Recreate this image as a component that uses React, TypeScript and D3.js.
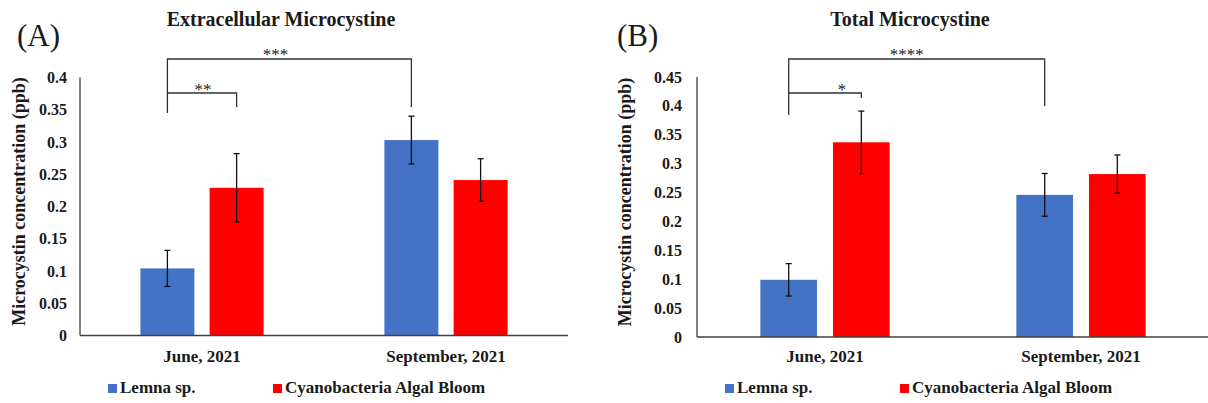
import React from "react";
import * as d3 from "d3";

const categories = ["June, 2021", "September, 2021"];
const seriesNames = ["Lemna sp.", "Cyanobacteria Algal Bloom"];
const seriesColors = ["#4472C4", "#FF0000"];

// Panel A: Extracellular Microcystine
const extraLemna = [0.104, 0.303];
const extraLemnaErr = [0.028, 0.037];
const extraCyano = [0.229, 0.241];
const extraCyanoErr = [0.053, 0.033];
const extraTicks = [0, 0.05, 0.1, 0.15, 0.2, 0.25, 0.3, 0.35, 0.4];

// Panel B: Total Microcystine
const totalLemna = [0.099, 0.246];
const totalLemnaErr = [0.028, 0.037];
const totalCyano = [0.337, 0.282];
const totalCyanoErr = [0.054, 0.033];
const totalTicks = [0, 0.05, 0.1, 0.15, 0.2, 0.25, 0.3, 0.35, 0.4, 0.45];

// Significance brackets: [category, series] of left and right ends
const extraBrackets = [
  { label: "***", a: [0, 0], b: [1, 0], level: 0 },
  { label: "**", a: [0, 0], b: [0, 1], level: 1 },
];
const totalBrackets = [
  { label: "****", a: [0, 0], b: [1, 0], level: 0 },
  { label: "*", a: [0, 0], b: [0, 1], level: 1 },
];

const FONT = "'Liberation Serif', 'Times New Roman', serif";
const TEXT = "#1a1a1a";

type PanelProps = {
  tag: string;
  title: string;
  titleX: number;
  values: number[][];
  errors: number[][];
  ticks: number[];
  x0: number;
  x1: number;
  yTop: number;
  yBottom: number;
  tickRight: number;
  yTitleX: number;
  tagX: number;
  brackets: { label: string; a: number[]; b: number[]; level: number }[];
  labelDx: number[];
  legendX: number[];
  legLeftEnd: number;
  rightLegEnds: number[];
};

function Panel(p: PanelProps) {
  const maxTick = p.ticks[p.ticks.length - 1];
  const y = d3.scaleLinear().domain([0, maxTick]).range([p.yBottom, p.yTop]);
  const x = d3.scaleBand<string>().domain(categories).range([p.x0, p.x1]).paddingInner(0).paddingOuter(0);
  const bw = x.bandwidth();
  const groupW = bw * 0.505;
  const xs = d3
    .scaleBand<string>()
    .domain(seriesNames)
    .range([bw / 2 - groupW / 2, bw / 2 + groupW / 2])
    .paddingInner(0.22)
    .paddingOuter(0);
  const barW = xs.bandwidth();
  const center = (c: number, s: number) => (x(categories[c]) as number) + (xs(seriesNames[s]) as number) + barW / 2;
  const fmt = (v: number) => (v === 0 ? "0" : String(+v.toFixed(2)));
  const bracketY = [59, 93];
  const cap = 3;

  return (
    <g>
      <text x={p.tagX} y={46} fontFamily={FONT} fontSize={31} fill={TEXT}>
        {p.tag}
      </text>
      <text x={p.titleX} y={26} textAnchor="middle" fontFamily={FONT} fontSize={20} fontWeight="bold" fill={TEXT}>
        {p.title}
      </text>
      <text
        transform={`translate(${p.yTitleX},${(p.yTop + p.yBottom) / 2 - 5}) rotate(-90)`}
        textAnchor="middle"
        fontFamily={FONT}
        fontSize={18}
        fontWeight="bold"
        fill={TEXT}
      >
        Microcystin concentration (ppb)
      </text>
      {p.ticks.map((t) => (
        <text
          key={t}
          x={p.tickRight}
          y={y(t)}
          dy="0.35em"
          textAnchor="end"
          fontFamily={FONT}
          fontSize={16}
          fontWeight="bold"
          fill={TEXT}
        >
          {fmt(t)}
        </text>
      ))}
      {p.values.map((vals, s) =>
        vals.map((v, c) => (
          <rect
            key={`b${s}${c}`}
            x={center(c, s) - barW / 2}
            y={y(v)}
            width={barW}
            height={y(0) - y(v)}
            fill={seriesColors[s]}
          />
        ))
      )}
      {p.values.map((vals, s) =>
        vals.map((v, c) => {
          const cx = center(c, s);
          const hi = y(v + p.errors[s][c]);
          const lo = y(v - p.errors[s][c]);
          return (
            <g key={`e${s}${c}`} stroke="#111" strokeWidth={1.3}>
              <line x1={cx} x2={cx} y1={hi} y2={lo} />
              <line x1={cx - cap} x2={cx + cap} y1={hi} y2={hi} />
              <line x1={cx - cap} x2={cx + cap} y1={lo} y2={lo} />
            </g>
          );
        })
      )}
      <line x1={p.x0} x2={p.x0} y1={p.yTop} y2={p.yBottom} stroke="#404040" strokeWidth={1.3} />
      <line x1={p.x0} x2={p.x1} y1={p.yBottom} y2={p.yBottom} stroke="#404040" strokeWidth={1.3} />
      {categories.map((c) => (
        <text
          key={c}
          x={(x(c) as number) + bw / 2}
          y={362}
          textAnchor="middle"
          fontFamily={FONT}
          fontSize={17}
          fontWeight="bold"
          fill={TEXT}
        >
          {c}
        </text>
      ))}
      {p.brackets.map((b, i) => {
        const xa = center(b.a[0], b.a[1]);
        const xb = center(b.b[0], b.b[1]);
        const by = bracketY[b.level];
        return (
          <g key={`k${i}`}>
            <path
              d={`M${xa},${b.level === 0 ? p.legLeftEnd : by} L${xa},${by} L${xb},${by} L${xb},${p.rightLegEnds[i]}`}
              fill="none"
              stroke="#333"
              strokeWidth={1.3}
            />
            <text
              x={(xa + xb) / 2 + p.labelDx[i]}
              y={by + (b.level === 0 ? 1 : 2)}
              textAnchor="middle"
              fontFamily={FONT}
              fontSize={17}
              fill={TEXT}
            >
              {b.label}
            </text>
          </g>
        );
      })}
      {seriesNames.map((n, s) => (
        <g key={n}>
          <rect x={p.legendX[s]} y={384} width={9} height={9} fill={seriesColors[s]} />
          <text x={p.legendX[s] + 12} y={393} fontFamily={FONT} fontSize={17} fontWeight="bold" fill={TEXT}>
            {n}
          </text>
        </g>
      ))}
    </g>
  );
}

export default function App() {
  return (
    <svg
      width={1208}
      height={403}
      viewBox="0 0 1208 403"
      style={{ position: "absolute", left: 0, top: 0, background: "#fff" }}
    >
      <rect width={1208} height={403} fill="#fff" />
      <Panel
        tag="(A)"
        title="Extracellular Microcystine"
        titleX={281}
        values={[extraLemna, extraCyano]}
        errors={[extraLemnaErr, extraCyanoErr]}
        ticks={extraTicks}
        x0={80}
        x1={568}
        yTop={77.5}
        yBottom={335.5}
        tickRight={67}
        yTitleX={25}
        tagX={17}
        brackets={extraBrackets}
        labelDx={[-14, 1]}
        legendX={[108, 273]}
        legLeftEnd={113}
        rightLegEnds={[107, 107]}
      />
      <Panel
        tag="(B)"
        title="Total Microcystine"
        titleX={910}
        values={[totalLemna, totalCyano]}
        errors={[totalLemnaErr, totalCyanoErr]}
        ticks={totalTicks}
        x0={697}
        x1={1209}
        yTop={77}
        yBottom={337}
        tickRight={682}
        yTitleX={631}
        tagX={617}
        brackets={totalBrackets}
        labelDx={[-10, 17]}
        legendX={[725, 900]}
        legLeftEnd={115}
        rightLegEnds={[106, 98]}
      />
    </svg>
  );
}
